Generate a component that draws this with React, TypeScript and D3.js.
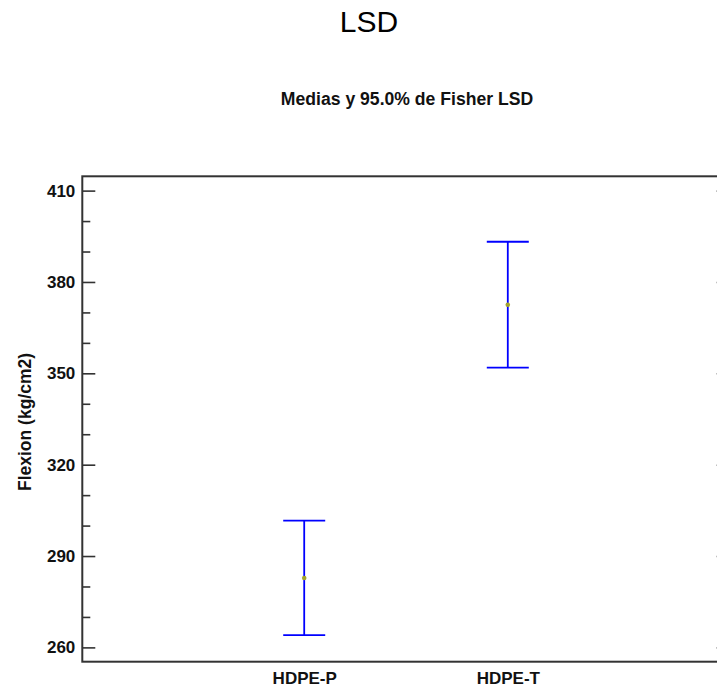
import { useEffect, useRef } from 'react'
import * as d3 from 'd3'

const groups = ['HDPE-P', 'HDPE-T']
const means = [282.8, 372.5]
const lowerLimits = [264.0, 351.9]
const upperLimits = [301.6, 393.2]
const yTicks = [260, 290, 320, 350, 380, 410]
const yMinorTicks = d3.range(260, 411, 10).filter(v => !yTicks.includes(v))

const FONT = '"Liberation Sans", Arial, Helvetica, sans-serif'

export default function App() {
  const svgRef = useRef<SVGSVGElement>(null)
  const width = 717
  const height = 689
  const frame = { left: 82.3, right: 729.7, top: 176.3, bottom: 661.7 }

  useEffect(() => {
    if (!svgRef.current) return
    const svg = d3.select(svgRef.current)
    svg.selectAll('*').remove()

    const xScale = d3.scalePoint<string>()
      .domain(groups)
      .range([frame.left, frame.right])
      .padding(1.09)

    const yScale = d3.scaleLinear()
      .domain([255.3, 414.7])
      .range([frame.bottom, frame.top])

    svg.append('rect')
      .attr('width', width)
      .attr('height', height)
      .attr('fill', '#ffffff')

    // titles
    svg.append('text')
      .attr('x', 369)
      .attr('y', 31.7)
      .attr('text-anchor', 'middle')
      .attr('font-family', FONT)
      .attr('font-size', 30)
      .attr('fill', '#000')
      .text('LSD')

    svg.append('text')
      .attr('x', 407)
      .attr('y', 105)
      .attr('text-anchor', 'middle')
      .attr('font-family', FONT)
      .attr('font-size', 17.6)
      .attr('font-weight', 'bold')
      .attr('fill', '#111')
      .text('Medias y 95.0% de Fisher LSD')

    // left axis (ticks point inward)
    const left = svg.append('g')
      .attr('transform', `translate(${frame.left},0)`)
    left.call(d3.axisLeft(yScale).tickValues(yTicks).tickSize(-13).tickPadding(7))
    left.append('g')
      .call(d3.axisLeft(yScale).tickValues(yMinorTicks).tickSize(-8).tickFormat(() => ''))
    left.selectAll('.domain').remove()
    left.selectAll('line').attr('stroke', '#333').attr('stroke-width', 1.6)
    left.selectAll('text')
      .attr('font-family', FONT)
      .attr('font-size', 17)
      .attr('font-weight', 'bold')
      .attr('fill', '#111')

    // right axis (ticks point inward)
    const right = svg.append('g')
      .attr('transform', `translate(${frame.right},0)`)
    right.call(d3.axisRight(yScale).tickValues(yTicks).tickSize(-13).tickFormat(() => ''))
    right.append('g')
      .call(d3.axisRight(yScale).tickValues(yMinorTicks).tickSize(-8).tickFormat(() => ''))
    right.selectAll('.domain').remove()
    right.selectAll('line').attr('stroke', '#333').attr('stroke-width', 1.6)

    // frame
    svg.append('rect')
      .attr('x', frame.left)
      .attr('y', frame.top)
      .attr('width', frame.right - frame.left)
      .attr('height', frame.bottom - frame.top)
      .attr('fill', 'none')
      .attr('stroke', '#333')
      .attr('stroke-width', 2)

    // bottom category labels
    const bottom = svg.append('g')
      .attr('transform', `translate(0,${frame.bottom})`)
    bottom.call(d3.axisBottom(xScale).tickSize(0).tickPadding(10))
    bottom.selectAll('.domain').remove()
    bottom.selectAll('text')
      .attr('font-family', FONT)
      .attr('font-size', 17)
      .attr('font-weight', 'bold')
      .attr('fill', '#111')

    // y axis title
    svg.append('text')
      .attr('transform', `translate(31,422) rotate(-90)`)
      .attr('text-anchor', 'middle')
      .attr('font-family', FONT)
      .attr('font-size', 17.5)
      .attr('font-weight', 'bold')
      .attr('fill', '#111')
      .text('Flexion (kg/cm2)')

    // LSD intervals
    const data = groups.map((g, i) => ({
      group: g,
      mean: means[i],
      lower: lowerLimits[i],
      upper: upperLimits[i]
    }))
    const capHalf = 21

    const bars = svg.append('g')
      .selectAll('g')
      .data(data)
      .enter().append('g')

    bars.append('line')
      .attr('x1', d => xScale(d.group)!)
      .attr('x2', d => xScale(d.group)!)
      .attr('y1', d => yScale(d.lower))
      .attr('y2', d => yScale(d.upper))
      .attr('stroke', '#0000ff')
      .attr('stroke-width', 1.8)

    bars.append('line')
      .attr('x1', d => xScale(d.group)! - capHalf)
      .attr('x2', d => xScale(d.group)! + capHalf)
      .attr('y1', d => yScale(d.upper))
      .attr('y2', d => yScale(d.upper))
      .attr('stroke', '#0000ff')
      .attr('stroke-width', 1.8)

    bars.append('line')
      .attr('x1', d => xScale(d.group)! - capHalf)
      .attr('x2', d => xScale(d.group)! + capHalf)
      .attr('y1', d => yScale(d.lower))
      .attr('y2', d => yScale(d.lower))
      .attr('stroke', '#0000ff')
      .attr('stroke-width', 1.8)

    bars.append('circle')
      .attr('cx', d => xScale(d.group)!)
      .attr('cy', d => yScale(d.mean))
      .attr('r', 2.3)
      .attr('fill', '#a3a32c')
  }, [])

  return (
    <svg
      ref={svgRef}
      width={width}
      height={height}
      style={{ position: 'absolute', left: 0, top: 0, display: 'block' }}
    />
  )
}
